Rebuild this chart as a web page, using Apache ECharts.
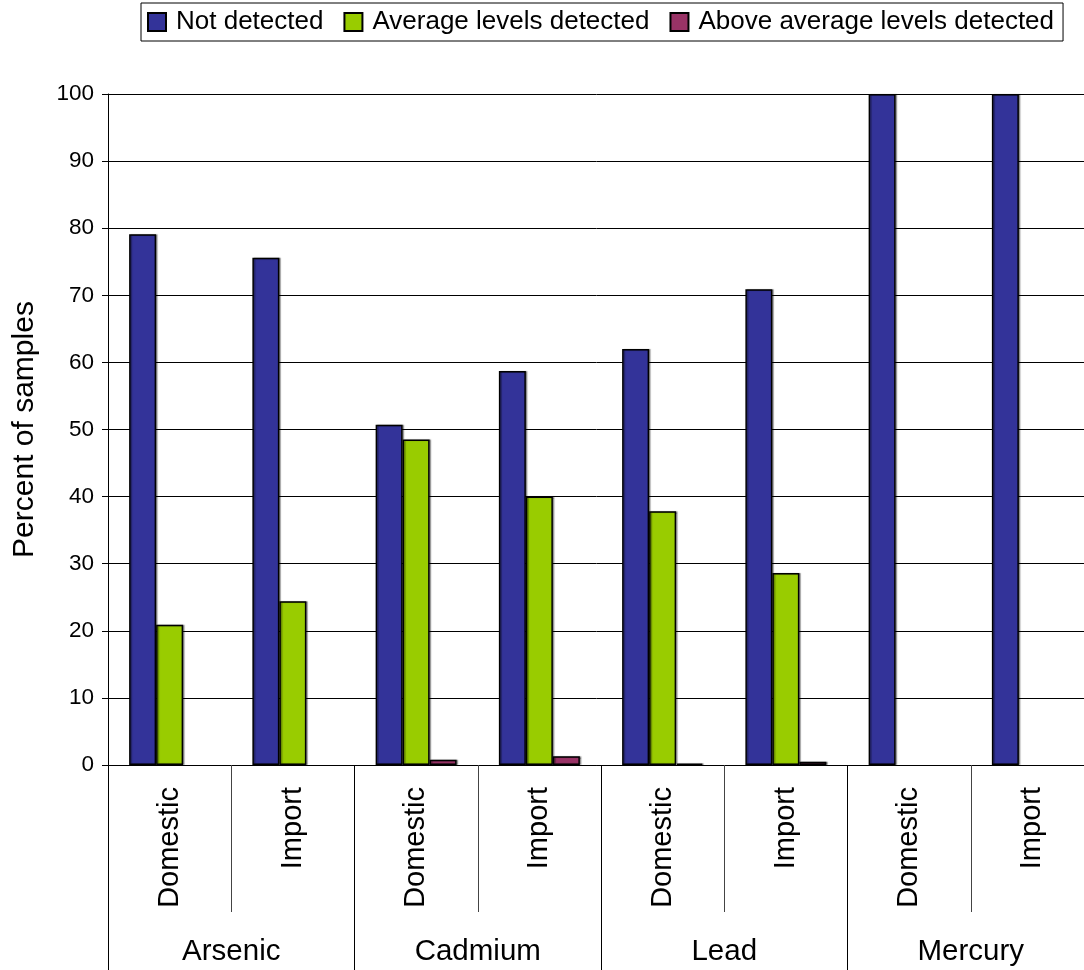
<!DOCTYPE html>
<html>
<head>
<meta charset="utf-8">
<script src="https://cdn.jsdelivr.net/npm/echarts@6/dist/echarts.min.js"></script>
<style>
  html, body { margin: 0; padding: 0; background: #fff; }
  #chart { width: 1084px; height: 970px; }
</style>
</head>
<body>
<div id="chart"></div>
<script>
// Inner (origin) and outer (metal) category labels
const origins = ['Domestic', 'Import', 'Domestic', 'Import', 'Domestic', 'Import', 'Domestic', 'Import'];
const metals = ['Arsenic', 'Cadmium', 'Lead', 'Mercury'];

// Percent of samples per result class
const notDetected = [79.1, 75.6, 50.7, 58.7, 62.0, 70.9, 100, 100];
const averageDetected = [20.9, 24.4, 48.5, 40.0, 37.8, 28.6, 0, 0];
const aboveAverageDetected = [0, 0, 0.8, 1.3, 0.2, 0.5, 0, 0];

const seriesNames = ['Not detected', 'Average levels detected', 'Above average levels detected'];
const seriesColors = ['#333399', '#99CC00', '#993366'];

const yTicks = { min: 0, max: 100, interval: 10 };

const font = 'Liberation Sans, Arial, sans-serif';
const chart = echarts.init(document.getElementById('chart'), null, { renderer: 'canvas' });

const seriesData = [notDetected, averageDetected, aboveAverageDetected];

// Zero-height bars get no outline so they vanish entirely
const toBarItems = (values) => values.map(v => (
  v === 0 ? { value: v, itemStyle: { borderWidth: 0, shadowBlur: 0, shadowOffsetX: 0 } } : { value: v }
));

chart.setOption({
  animation: false,
  backgroundColor: '#fff',
  textStyle: { fontFamily: font, color: '#000' },
  legend: {
    left: 141,
    top: 3,
    orient: 'horizontal',
    padding: [6, 9, 6, 6],
    borderColor: '#000',
    borderWidth: 1,
    itemWidth: 18,
    itemHeight: 18,
    itemGap: 20,
    icon: 'rect',
    textStyle: { fontFamily: font, fontSize: 26, color: '#000', padding: [0, 0, 0, 5] },
    data: seriesNames
  },
  grid: {
    left: 108, top: 94, width: 986, bottom: 205,
    containLabel: false, outerBoundsMode: 'none'
  },
  xAxis: [
    {
      type: 'category',
      data: origins,
      position: 'bottom',
      axisLine: { show: true, lineStyle: { color: '#000', width: 1 } },
      axisTick: { show: true, interval: 0, length: 147, lineStyle: { color: '#444', width: 1 } },
      axisLabel: {
        interval: 0, rotate: 90, margin: 22,
        fontFamily: font, fontSize: 29, color: '#000'
      },
      splitLine: { show: false }
    },
    {
      type: 'category',
      data: metals,
      position: 'bottom',
      axisLine: { show: false },
      axisTick: { show: true, interval: 0, length: 205, lineStyle: { color: '#000', width: 1 } },
      axisLabel: {
        interval: 0, margin: 172,
        fontFamily: font, fontSize: 29.5, color: '#000'
      },
      splitLine: { show: false }
    }
  ],
  yAxis: {
    type: 'value',
    min: yTicks.min,
    max: yTicks.max,
    interval: yTicks.interval,
    name: 'Percent of samples',
    nameLocation: 'middle',
    nameRotate: 90,
    nameGap: 68,
    nameTextStyle: { fontFamily: font, fontSize: 30, color: '#000' },
    axisLine: { show: true, lineStyle: { color: '#000', width: 1 } },
    axisTick: { show: true, inside: false, length: 6, lineStyle: { color: '#000' } },
    axisLabel: { fontFamily: font, fontSize: 22.5, color: '#000', margin: 14 },
    splitLine: { show: true, lineStyle: { color: '#000', width: 1 } }
  },
  series: seriesNames.map((name, i) => ({
    name,
    type: 'bar',
    xAxisIndex: 0,
    data: toBarItems(seriesData[i]),
    barWidth: 27,
    barGap: '0%',
    itemStyle: {
      color: seriesColors[i], borderColor: '#000', borderWidth: 1.5,
      shadowColor: 'rgba(0,0,0,0.35)', shadowBlur: 1, shadowOffsetX: 1.5, shadowOffsetY: 0
    }
  }))
});
</script>
</body>
</html>
